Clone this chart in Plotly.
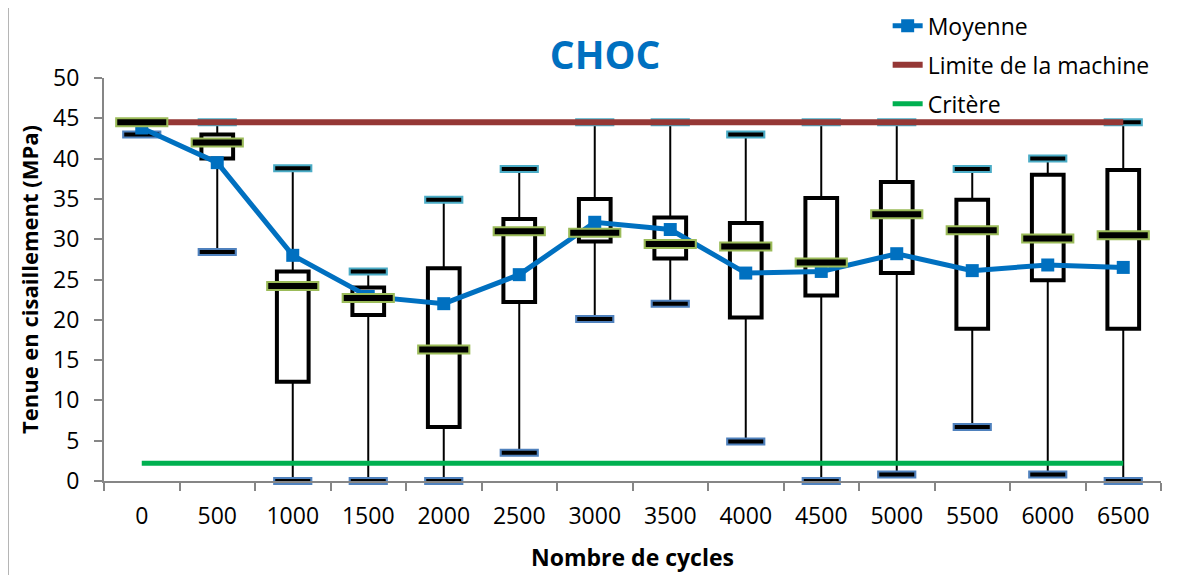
import plotly.graph_objects as go

# cycles (x categories)
cycles = ["0", "500", "1000", "1500", "2000", "2500", "3000",
          "3500", "4000", "4500", "5000", "5500", "6000", "6500"]

# box plot statistics (MPa)
v_min = [43.0, 28.4, 0.0, 0.0, 0.0, 3.5, 20.1, 22.0, 4.9, 0.0, 0.8, 6.7, 0.8, 0.0]
q1 = [44.5, 40.0, 12.3, 20.6, 6.7, 22.2, 29.7, 27.6, 20.3, 23.0, 25.8, 18.9, 24.9, 18.9]
median = [44.5, 42.0, 24.2, 22.7, 16.3, 31.0, 30.8, 29.4, 29.1, 27.1, 33.1, 31.1, 30.1, 30.5]
q3 = [44.5, 43.0, 26.0, 24.0, 26.4, 32.5, 35.0, 32.7, 32.0, 35.1, 37.1, 34.9, 38.0, 38.6]
v_max = [44.5, 44.5, 38.8, 26.0, 34.9, 38.7, 44.5, 44.5, 43.0, 44.5, 44.5, 38.7, 40.0, 44.5]
moyenne = [43.8, 39.5, 28.0, 22.9, 22.0, 25.6, 32.1, 31.2, 25.8, 26.0, 28.2, 26.1, 26.8, 26.5]

limite = 44.5
critere = 2.2

FONT = "Open Sans"
BLUE = "#0070C0"

fig = go.Figure()

# boxes (no whiskers, drawn separately)
fig.add_trace(go.Box(
    x=cycles, q1=q1, median=median, q3=q3, lowerfence=q1, upperfence=q3,
    width=0.42, whiskerwidth=0, fillcolor="white",
    line=dict(color="black", width=4), showlegend=False, hoverinfo="skip",
))

# whiskers
wx, wy = [], []
for c, mn, a, b, mx in zip(cycles, v_min, q1, q3, v_max):
    wx += [c, c, None, c, c, None]
    wy += [mn, a, None, b, mx, None]
fig.add_trace(go.Scatter(x=wx, y=wy, mode="lines", line=dict(color="black", width=2),
                         showlegend=False, hoverinfo="skip", cliponaxis=False))

# caps
for vals, col in [(v_max, "#4BACC6"), (v_min, "#4F81BD")]:
    fig.add_trace(go.Scatter(x=cycles, y=vals, mode="markers", cliponaxis=False,
                             marker=dict(symbol="line-ew", size=28, line=dict(color=col, width=8)),
                             showlegend=False, hoverinfo="skip"))
    fig.add_trace(go.Scatter(x=cycles, y=vals, mode="markers", cliponaxis=False,
                             marker=dict(symbol="line-ew", size=25, line=dict(color="black", width=4)),
                             showlegend=False, hoverinfo="skip"))

# reference lines
fig.add_trace(go.Scatter(x=[cycles[0], cycles[-1]], y=[limite, limite], mode="lines",
                         line=dict(color="#953735", width=6), name="Limite de la machine",
                         legendgroup="b", legendrank=2))
fig.add_trace(go.Scatter(x=[cycles[0], cycles[-1]], y=[critere, critere], mode="lines",
                         line=dict(color="#00B050", width=5), name="Critère",
                         legendgroup="c", legendrank=3))

# mean
fig.add_trace(go.Scatter(x=cycles, y=moyenne, mode="lines+markers", name="Moyenne",
                         line=dict(color=BLUE, width=5),
                         marker=dict(symbol="square", size=13, color=BLUE),
                         legendgroup="a", legendrank=1))

# medians
fig.add_trace(go.Scatter(x=cycles, y=median, mode="markers", cliponaxis=False,
                         marker=dict(symbol="line-ew", size=38, line=dict(color="#9BBB59", width=10)),
                         showlegend=False, hoverinfo="skip"))
fig.add_trace(go.Scatter(x=cycles, y=median, mode="markers", cliponaxis=False,
                         marker=dict(symbol="line-ew", size=35, line=dict(color="black", width=6)),
                         showlegend=False, hoverinfo="skip"))

# page body has an 8px margin, so the figure is shifted by that amount
fig.update_layout(
    width=1196, height=575,
    margin=dict(l=96, r=43, t=70, b=102, autoexpand=False),
    plot_bgcolor="white", paper_bgcolor="white",
    font=dict(family=FONT, size=23, color="black"),
    title=dict(text="<b>CHOC</b>", font=dict(family=FONT, size=39, color=BLUE),
               x=0.4993, xanchor="center", xref="container",
               y=0.917, yanchor="middle", yref="container"),
    legend=dict(x=0.7414, xanchor="left", y=1.1826, yanchor="top",
                font=dict(family=FONT, size=23), bgcolor="rgba(0,0,0,0)",
                traceorder="grouped", tracegroupgap=6),
    shapes=[dict(type="rect", xref="paper", yref="paper",
                 x0=-0.0908, x1=1.2, y0=-0.5, y1=1.176,
                 line=dict(color="#A0A0A0", width=1.5), layer="below")],
)

fig.update_xaxes(
    type="category", range=[-0.5, len(cycles) - 0.5],
    tickson="boundaries", ticks="outside", ticklen=8,
    tickcolor="#868686", tickwidth=2, showline=True, linecolor="#868686", linewidth=2,
    showgrid=False, ticklabelstandoff=13, automargin=False,
    title=dict(text="<b>Nombre de cycles</b>", font=dict(size=23), standoff=20),
)
fig.update_yaxes(
    range=[0, 50], tickvals=[0, 5, 10, 15, 20, 25, 30, 35, 40, 45, 50],
    ticks="outside", ticklen=8, tickcolor="#868686", tickwidth=2,
    showline=True, linecolor="#868686", linewidth=2, showgrid=False, zeroline=False,
    automargin=False, ticklabelstandoff=10,
    title=dict(text="<b>Tenue en cisaillement (MPa)</b>", font=dict(size=22), standoff=8),
)

fig.write_html("out.html")
